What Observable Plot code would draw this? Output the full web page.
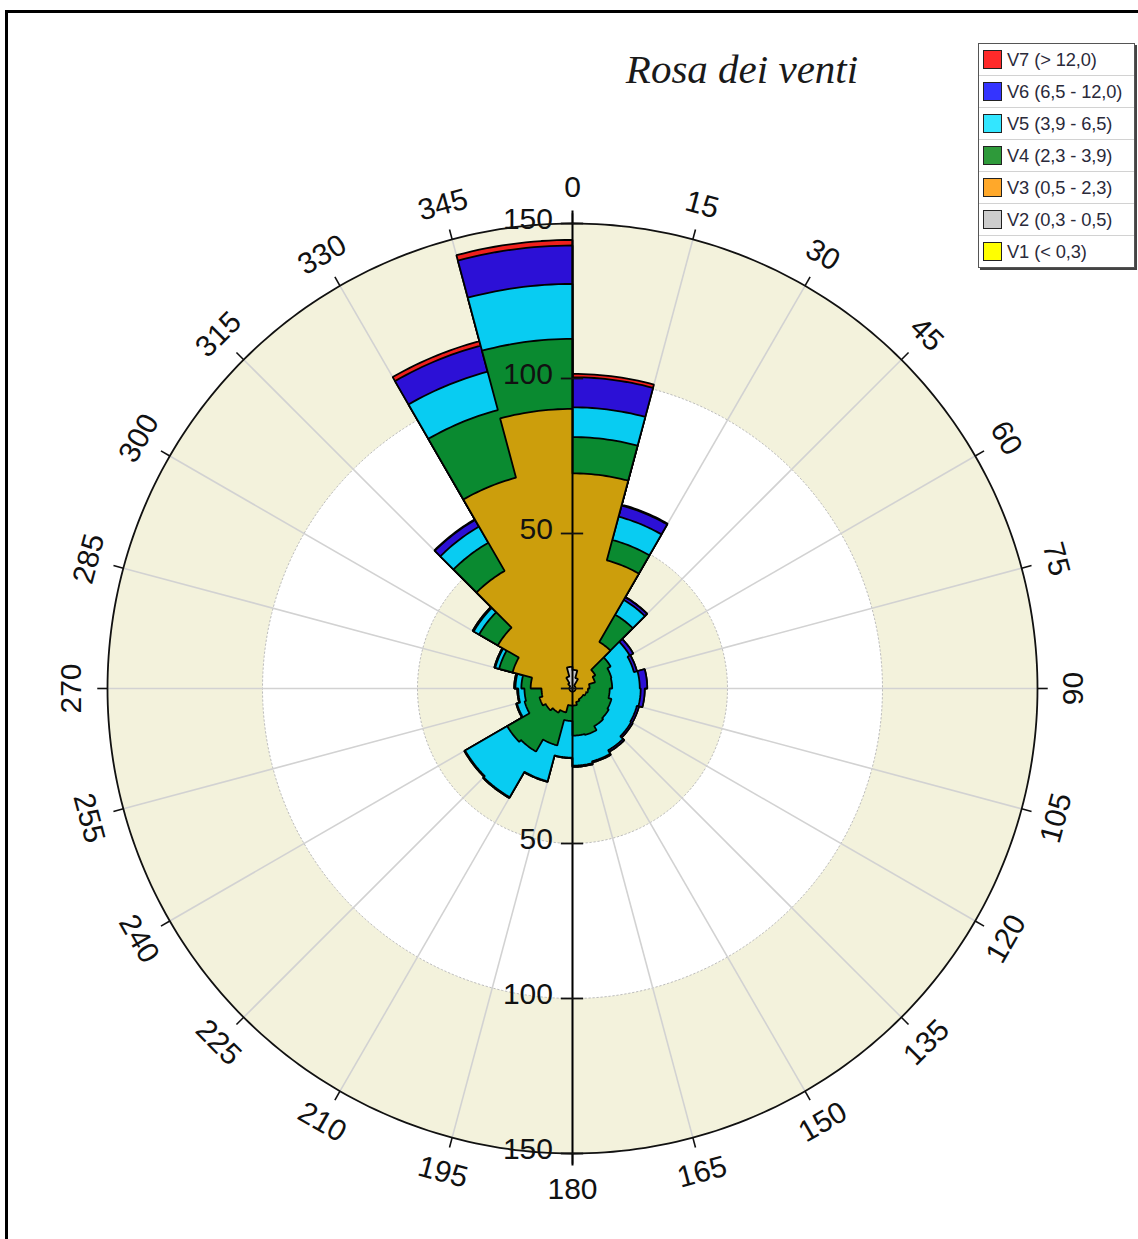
<!DOCTYPE html>
<html>
<head>
<meta charset="utf-8">
<script src="https://cdn.jsdelivr.net/npm/d3@7"></script>
<script src="https://cdn.jsdelivr.net/npm/@observablehq/plot@0.6"></script>
<style>
  html, body { margin: 0; padding: 0; background: #fff; }
  #page { position: relative; width: 1138px; height: 1239px; overflow: hidden; background: #fff; }
  #frame { position: absolute; left: 5px; top: 10px; right: -10px; bottom: -10px; border-top: 3px solid #000; border-left: 3px solid #000; }
  #chart { position: absolute; left: 0; top: 0; }
  #title { position: absolute; left: 542px; width: 400px; top: 49px; line-height: 1; text-align: center;
           font-family: "Liberation Serif", "Times New Roman", serif; font-style: italic; font-size: 41px; color: #1a1a1a; }
  #legend { position: absolute; left: 978px; top: 43px; width: 155px; background: #fff;
            border: 1px solid #555; box-shadow: 2px 2px 0 #444; font-family: "Liberation Sans", Arial, sans-serif; }
  .row { height: 31px; border-bottom: 1px solid #d2d2d2; display: flex; align-items: center; }
  .row:last-child { border-bottom: none; }
  .sw { width: 19px; height: 19px; border: 1px solid #222; margin-left: 4px; margin-right: 5px; box-sizing: border-box; flex: none; }
  .lab { font-size: 18.3px; color: #2a2a3a; white-space: nowrap; letter-spacing: -0.1px; }
</style>
</head>
<body>
<div id="page">
  <div id="frame"></div>
  <div id="chart"></div>
  <div id="title">Rosa dei venti</div>
  <div id="legend"></div>
</div>
<script>
// ---------- data ----------
const directions = [0, 15, 30, 45, 60, 75, 90, 105, 120, 135, 150, 165, 180, 195, 210, 225, 240, 255, 270, 285, 300, 315, 330, 345];
const classes = ["V1 (< 0,3)", "V2 (0,3 - 0,5)", "V3 (0,5 - 2,3)", "V4 (2,3 - 3,9)", "V5 (3,9 - 6,5)", "V6 (6,5 - 12,0)", "V7 (> 12,0)"];
//            0     15    30    45    60    75    90    105   120   135   150   165   180   195   210   225   240   255   270   285   300   315   330   345
const v1 = [0.3,  0.2,  0.1,  0.1,  0.1,  0.1,  0.1,  0.1,  0.1,  0.1,  0.1,  0.1,  0.1,  0.1,  0.1,  0.1,  0.1,  0.1,  0.1,  0.1,  0.1,  0.2,  0.3,  0.3];
const v2 = [5.7,  3.3,  0.9,  0.9,  0.9,  0.9,  0.9,  0.9,  0.9,  0.9,  0.9,  0.9,  0.9,  0.9,  0.9,  0.9,  0.9,  0.9,  0.9,  0.9,  0.9,  1.8,  3.7,  6.7];
const v3 = [63.4, 39.3, 16.3, 7.5,  6.5,  4.5,  4.0,  3.5,  3.0,  3.0,  3.5,  4.5,  4.5,  7.0,  8.0,  9.0,  10.0, 9.0,  12.5, 19.0, 26.8, 41.8, 66.4, 83.2];
const v4 = [11.7, 6.8,  10.2, 5.7,  5.5,  7.3,  7.0,  8.5,  9.5,  10.0, 11.0, 9.7,  5.0,  11.0, 14.5, 14.3, 5.0,  5.5,  3.0,  4.5,  7.0,  10.5, 22.6, 22.6];
const v5 = [9.6,  7.8,  5.5,  7.1,  7.5,  8.9,  10.0, 8.5,  8.3,  9.0,  8.8,  9.7,  11.8, 12.0, 17.0, 15.7, 2.5,  2.0,  1.9,  1.3,  2.0,  6.0,  12.8, 17.7];
const v6 = [9.7,  3.7,  1.0,  1.3,  1.0,  2.4,  1.3,  0.7,  0.6,  0.6,  0.4,  0.4,  0.2,  0.2,  0.3,  0.3,  0.3,  0.3,  0.4,  0.3,  0.4,  2.5,  8.7,  12.4];
const v7 = [1.1,  0.3,  0.1,  0,    0,    0,    0,    0,    0,    0,    0,    0,    0,    0,    0,    0,    0,    0,    0,    0,    0,    0.2,  1.5,  1.8];
const seriesValues = [v1, v2, v3, v4, v5, v6, v7];
const radialTicks = [50, 100, 150];
const rMax = 150;
const sectorWidth = 15;

// ---------- styles ----------
const barColors = ["#FFFF00", "#C8C8C8", "#CC9E0C", "#0A8A30", "#08CCF2", "#2C10D6", "#F0201C"];
const legendColors = ["#FFFF00", "#CCCCCC", "#FFA82A", "#2E9A3A", "#33E6FF", "#3434FF", "#FF2A2A"];
const beige = "#F3F2DC";
const W = 1138, H = 1239, CX = 572, CY = 688, PX = 3.1;

// ---------- geometry helpers ----------
const rad = a => a * Math.PI / 180;
const pt = (r, a) => ({x: r * Math.sin(rad(a)), y: r * Math.cos(rad(a))});
function circle(r, id) {
  const out = [];
  for (let a = 0; a <= 360; a += 1) out.push({...pt(r, a), id});
  return out;
}

// cumulative stack per sector
const cum = seriesValues.map(() => []);
directions.forEach((dir, i) => {
  let acc = 0;
  seriesValues.forEach((vals, s) => { acc += vals[i]; cum[s][i] = acc; });
});

// one closed outline per stacked layer, outermost first
const layerPts = [];
for (let s = seriesValues.length - 1; s >= 0; s--) {
  const id = "L" + s, fill = barColors[s];
  directions.forEach((dir, i) => {
    for (let a = dir; a <= dir + sectorWidth + 1e-9; a += 1) layerPts.push({...pt(cum[s][i], a), id, fill});
  });
  layerPts.push({...pt(cum[s][0], directions[0]), id, fill});
}

const bands = [
  ...circle(rMax, "b150").map(d => ({...d, fill: beige})),
  ...circle(100, "b100").map(d => ({...d, fill: "#FFFFFF"})),
  ...circle(50, "b50").map(d => ({...d, fill: beige}))
];
const dotted = [...circle(50, "d50"), ...circle(100, "d100")];
const outer = circle(rMax, "outer");

const spokes = directions.map(a => ({a, ...pt(rMax, a)}));
const outerTicks = directions.map(a => {
  const p0 = pt(rMax, a), p1 = pt(rMax + 3.3, a);
  return {x1: p0.x, y1: p0.y, x2: p1.x, y2: p1.y};
});
const angleLabels = directions.map(a => ({
  ...pt(161.5, a),
  text: String(a),
  rot: a < 90 ? a : (a < 270 ? a - 180 : a - 360)
}));
const radialLabelData = [
  ...radialTicks.map(v => ({y: v, text: String(v)})),
  ...radialTicks.map(v => ({y: -v, text: String(v)}))
];
const tickData = [{y: 0}, ...radialLabelData.map(d => ({y: d.y}))];

const chart = Plot.plot({
  width: W, height: H, margin: 0,
  style: {fontFamily: "'Liberation Sans', Arial, sans-serif", background: "transparent", overflow: "visible"},
  x: {domain: [-CX / PX, (W - CX) / PX], axis: null},
  y: {domain: [-(H - CY) / PX, CY / PX], axis: null},
  color: {type: "identity"},
  marks: [
    Plot.line(bands, {x: "x", y: "y", z: "id", fill: "fill", stroke: null, curve: "linear"}),
    Plot.line(dotted, {x: "x", y: "y", z: "id", stroke: "#BDBDBD", strokeWidth: 1, strokeDasharray: "1.5,2.5", curve: "linear"}),
    Plot.link(spokes, {x1: 0, y1: 0, x2: "x", y2: "y", stroke: "#D2D2D2", strokeWidth: 1.6}),
    Plot.line(layerPts, {x: "x", y: "y", z: "id", fill: "fill", stroke: "#000", strokeWidth: 1.8, strokeLinejoin: "miter", curve: "linear"}),
    Plot.line(outer, {x: "x", y: "y", stroke: "#111", strokeWidth: 1.8, curve: "linear"}),
    Plot.link(outerTicks, {x1: "x1", y1: "y1", x2: "x2", y2: "y2", stroke: "#111", strokeWidth: 1.6}),
    Plot.ruleX([0], {y1: -(rMax + 4), y2: rMax + 4, stroke: "#000", strokeWidth: 2}),
    Plot.ruleY(tickData, {y: "y", x1: -3.6, x2: 3.6, stroke: "#111", strokeWidth: 1.8}),
    Plot.text(radialLabelData, {x: -6.3, y: "y", text: "text", textAnchor: "end", dy: -4, fontSize: 30, fill: "#111"}),
    Plot.text(angleLabels, {x: "x", y: "y", text: "text", rotate: "rot", fontSize: 30, fill: "#111"})
  ]
});
document.getElementById("chart").appendChild(chart);

// legend (top row = V7)
const legend = document.getElementById("legend");
for (let s = classes.length - 1; s >= 0; s--) {
  const row = document.createElement("div");
  row.className = "row";
  const sw = document.createElement("div");
  sw.className = "sw";
  sw.style.background = legendColors[s];
  const lab = document.createElement("div");
  lab.className = "lab";
  lab.textContent = classes[s];
  row.appendChild(sw);
  row.appendChild(lab);
  legend.appendChild(row);
}
</script>
</body>
</html>
